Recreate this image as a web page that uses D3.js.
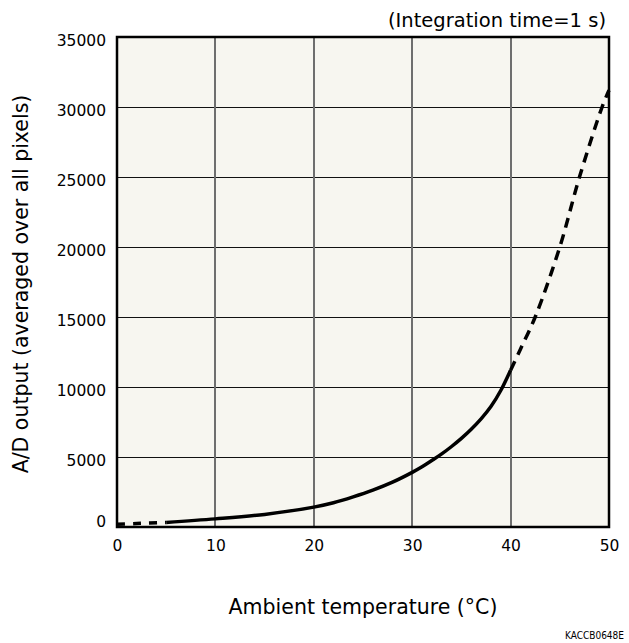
<!DOCTYPE html>
<html><head><meta charset="utf-8">
<script src="https://cdn.jsdelivr.net/npm/d3@7"></script>
<style>
body{margin:0;background:#fff;}
text{font-family:'DejaVu Sans',sans-serif;fill:#000;}
</style></head><body>
<svg id="c" width="629" height="643"></svg>
<script>
// Data
const xTicks = [0, 10, 20, 30, 40, 50];
const yTicks = [0, 5000, 10000, 15000, 20000, 25000, 30000, 35000];
const lowDashedT = [0, 2, 5];
const lowDashedV = [200, 250, 330];
const solidT = [5, 10, 15, 20, 22, 24, 26, 28, 30, 31, 32, 33, 34, 35, 36, 37, 38, 39, 40];
const solidV = [330, 580, 900, 1420, 1730, 2150, 2630, 3200, 3900, 4300, 4750, 5220, 5750, 6330, 6980, 7720, 8600, 9750, 11200];
const highDashedT = [40, 41, 42.5, 45, 47, 49.3, 50];
const highDashedV = [11200, 12700, 15000, 20000, 25000, 30000, 31200];

const svg = d3.select("#c");
const L = 117, R = 609, T = 37, B = 527;
const x = d3.scaleLinear().domain([0, 50]).range([L, R]);
const y = d3.scaleLinear().domain([0, 35000]).range([B, T]);
const crisp = v => Math.round(v) + 0.5;

svg.append("rect").attr("x", L).attr("y", T).attr("width", R - L).attr("height", B - T).attr("fill", "#f7f6f0");

// grid
svg.append("g").selectAll("line").data(yTicks.slice(1, -1)).join("line")
  .attr("x1", L).attr("x2", R).attr("y1", d => crisp(y(d))).attr("y2", d => crisp(y(d)))
  .attr("stroke", "#111").attr("stroke-width", 1);
svg.append("g").selectAll("line").data(xTicks.slice(1, -1)).join("line")
  .attr("y1", T).attr("y2", B).attr("x1", d => Math.round(x(d))).attr("x2", d => Math.round(x(d)))
  .attr("stroke", "#6e6e6e").attr("stroke-width", 2);

const line = d3.line().x(d => x(d[0])).y(d => y(d[1])).curve(d3.curveCatmullRom.alpha(0.5));
const zip = (a, b) => a.map((v, i) => [v, b[i]]);

svg.append("path").datum(zip(lowDashedT, lowDashedV)).attr("d", line)
  .attr("fill", "none").attr("stroke", "#000").attr("stroke-width", 3.5).attr("stroke-dasharray", "8,8");
svg.append("path").datum(zip(solidT, solidV)).attr("d", line)
  .attr("fill", "none").attr("stroke", "#000").attr("stroke-width", 3.5);
svg.append("path").datum(zip(highDashedT, highDashedV)).attr("d", line)
  .attr("fill", "none").attr("stroke", "#000").attr("stroke-width", 3.5).attr("stroke-dasharray", "10,7");

// frame
svg.append("rect").attr("x", L).attr("y", T).attr("width", R - L).attr("height", B - T)
  .attr("fill", "none").attr("stroke", "#000").attr("stroke-width", 2.5);

// axes labels
const yAxis = d3.axisLeft(y).tickValues(yTicks).tickSize(0).tickPadding(11).tickFormat(d3.format("d"));
const gy = svg.append("g").attr("transform", `translate(${L},0)`).call(yAxis);
gy.select(".domain").remove();
gy.selectAll("text").attr("font-size", 15.5).attr("dy", d => d === 0 ? "-0.05em" : "0.55em")
  .style("font-family", "'DejaVu Sans',sans-serif");

const xAxis = d3.axisBottom(x).tickValues(xTicks).tickSize(0).tickPadding(13).tickFormat(d3.format("d"));
const gx = svg.append("g").attr("transform", `translate(0,${B})`).call(xAxis);
gx.select(".domain").remove();
gx.selectAll("text").attr("font-size", 15.5)
  .style("font-family", "'DejaVu Sans',sans-serif");

svg.append("text").attr("x", 363).attr("y", 614).attr("text-anchor", "middle")
  .attr("font-size", 20.5).text("Ambient temperature (°C)");
svg.append("text").attr("transform", "translate(28,284) rotate(-90)").attr("text-anchor", "middle")
  .attr("font-size", 20.5).text("A/D output (averaged over all pixels)");
svg.append("text").attr("x", 606).attr("y", 27).attr("text-anchor", "end")
  .attr("font-size", 19.5).text("(Integration time=1 s)");
svg.append("text").attr("x", 624).attr("y", 639).attr("text-anchor", "end")
  .attr("font-size", 10).attr("font-stretch", "condensed").text("KACCB0648E");
</script></body></html>
